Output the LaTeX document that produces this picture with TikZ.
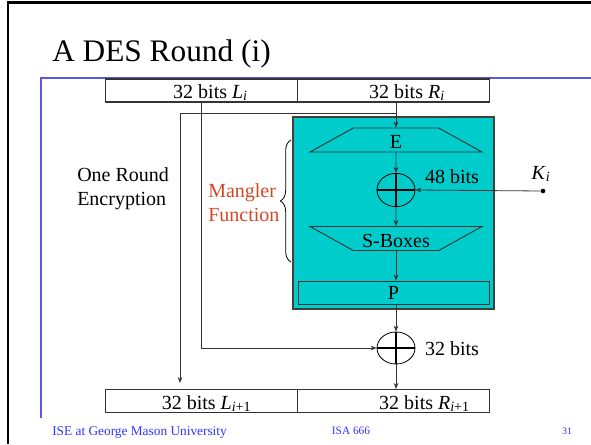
\documentclass[tikz,border=0pt]{standalone}
\usepackage{fontspec}
\setmainfont{Liberation Serif}
\usepackage{xcolor}
\usepackage{tikz}
\usetikzlibrary{positioning, shapes.geometric}
\usetikzlibrary{calc, arrows.meta, decorations.pathreplacing}
\definecolor{mangcyan}{RGB}{0,204,204}
\definecolor{mangred}{RGB}{208,72,36}
\definecolor{footblue}{RGB}{51,51,255}
\definecolor{rulecol}{RGB}{90,90,225}
\tikzstyle{halfbox} = [rectangle, minimum width=144pt, minimum height=17.25pt, draw=black!80, line width=0.8pt]
\tikzstyle{txt} = [inner sep=0pt]
\tikzstyle{stage} = [trapezium, trapezium left angle=29, trapezium right angle=29, trapezium stretches body, minimum width=129pt, text height=15.5pt, text depth=2.5pt, inner sep=0pt, draw=black!80, line width=0.7pt]
\tikzstyle{xorop} = [ellipse, draw=black, line width=0.6pt, minimum width=28.5pt, minimum height=25pt, inner sep=0pt]
\tikzstyle{cross} = [line width=2pt]
\tikzstyle{arrow} = [line width=0.6pt, draw=black!80, -{Stealth[length=4.5pt,width=3.5pt]}]
\tikzstyle{footer} = [inner sep=0pt, text=footblue, anchor=base]
\tikzstyle{every node}=[font=\fontsize{15}{18}\selectfont]

\begin{document}
\begin{tikzpicture}[x=0.75pt, y=-0.75pt]
		\useasboundingbox (0,0) rectangle (591,444);
		% slide frame
		\draw[line width=2.2pt] (8,444) -- (8,2.5) -- (591,2.5);
		\draw[rulecol, line width=1.1pt] (41,418) -- (41,78) -- (591,78);
		\node[txt, anchor=base west, font=\fontsize{23.5}{28}\selectfont] (title) at (52,61) {A DES Round (i)};
		
		\node (Lbox) [halfbox] at (201.5,90.5) {};
		\node (Rbox) [halfbox] at (393.5,90.5) {};
		\node (Ltxt) [txt, anchor=base] at (210.5,98) {32 bits \textit{L}\textsubscript{\textit{i}}};
		\node (Rtxt) [txt, anchor=base] at (407,98) {32 bits \textit{R}\textsubscript{\textit{i}}};
		
		\node (mangler) [rectangle, draw=black!75, line width=0.8pt, fill=mangcyan, minimum width=150.75pt, minimum height=144pt] at (393.5,213) {};
		\node (E) [stage] at (396,140) {E};
		\node (xor1) [xorop] at (396,190) {};
		\draw[cross] (xor1.west) -- (xor1.east) (xor1.north) -- (xor1.south);
		\node (S) [stage, shape border rotate=180] at (396,238.5) {S-Boxes};
		\node (P) [rectangle, draw=black!80, line width=0.7pt, minimum width=143.25pt, minimum height=17.25pt] at (393.5,292.5) {P};
		\node (bits48) [txt] at (452,177) {48 bits};
		\node (Kdot) [circle, fill=black, inner sep=0pt, minimum size=3.5pt] at (543,191) {};
		\node (Klab) [txt] at (541,174) {\textit{K}\textsubscript{\textit{i}}};
		
		\node (xor2) [xorop, minimum height=24pt] at (396,348) {};
		\draw[cross] (xor2.west) -- (xor2.east) (xor2.north) -- (xor2.south);
		\node (bits32) [txt] at (452,349) {32 bits};
		
		\node (Lnext) [halfbox] at (201.5,401) {};
		\node (Rnext) [halfbox] at (393.5,401) {};
		\node (Lntxt) [txt, anchor=base] at (206.5,409) {32 bits \textit{L}\textsubscript{\textit{i}+1}};
		\node (Rntxt) [txt, anchor=base] at (424.5,409) {32 bits \textit{R}\textsubscript{\textit{i}+1}};
		
		\node (round) [txt, anchor=west, align=left] at (77,189) {One Round\\Encryption};
		\node (mfunc) [txt, anchor=west, align=left, text=mangred] at (208,203) {Mangler\\Function};
		\draw[line width=0.6pt, decorate, decoration={brace, amplitude=8pt}] (291,262) -- (291,140);
		
		\coordinate (split) at (396,113);
		\coordinate (Ldrop) at (180,383);
		\draw [arrow](Rbox.south -| E.north) -- (E.north);
		\draw [arrow](split) -| (Ldrop);
		\draw [arrow](Lbox.south) |- (xor2.west);
		\draw [arrow](E.south) -- (xor1.north);
		\draw [arrow](xor1.south) -- (S.north);
		\draw [arrow](S.south) -- (S.south |- P.north);
		\draw [arrow](P.south -| xor2.north) -- (xor2.north);
		\draw [arrow](xor2.south) -- (xor2.south |- Rnext.north);
		\draw [arrow](Kdot) -- (xor1.east);
		
		\node (foot1) [footer, anchor=base west, font=\fontsize{10}{12}\selectfont] at (52,435) {ISE at George Mason University};
		\node (foot2) [footer, font=\fontsize{8.5}{10}\selectfont] at (351,434) {ISA 666};
		\node (foot3) [footer, font=\fontsize{7.5}{9}\selectfont] at (567,434) {31};
	\end{tikzpicture}
\end{document}
